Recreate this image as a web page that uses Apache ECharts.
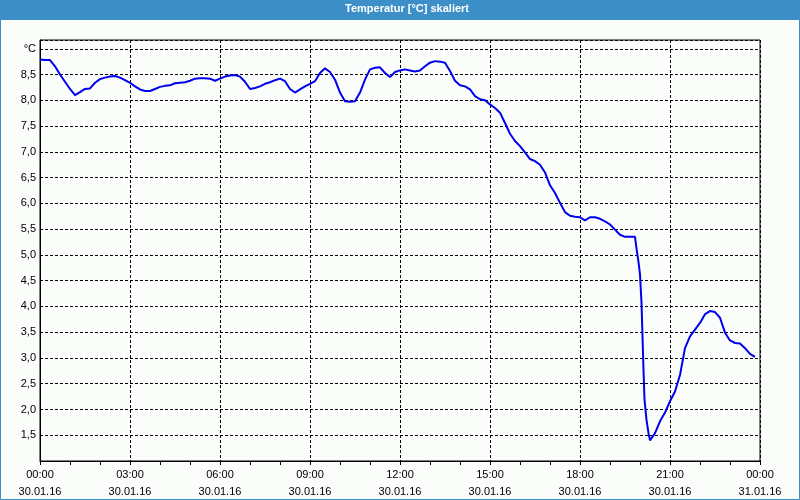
<!DOCTYPE html>
<html>
<head>
<meta charset="utf-8">
<script src="https://cdn.jsdelivr.net/npm/echarts@6/dist/echarts.min.js"></script>
<style>
html,body{margin:0;padding:0;background:#fafdfa;}
#chart{width:800px;height:500px;}
</style>
</head>
<body>
<div id="chart"></div>
<script>
// ---- data ----
const chartTitle = 'Temperatur [°C] skaliert';
const yUnit = '°C';
// time in minutes since 30.01.16 00:00
const times = [
  0,10,20,30,40,50,60,70,80,90,100,110,120,130,140,150,160,170,180,190,
  200,210,220,230,240,250,260,270,280,290,300,310,320,330,340,350,360,370,380,390,
  400,410,420,430,440,450,460,470,480,490,500,510,520,530,540,550,560,570,580,590,
  600,610,620,630,640,650,660,670,680,690,700,710,720,730,740,750,760,770,780,790,
  800,810,820,830,840,850,860,870,880,890,900,910,920,930,940,950,960,970,980,990,
  1000,1010,1020,1030,1040,1050,1060,1070,1080,1090,1100,1110,1120,1130,1140,1150,1160,1170,1180,1190,
  1193,1197,1200,1203,1205,1207,1209,1213,1217,1220,1230,1240,1250,1260,1270,1280,1290,1300,1310,1320,
  1330,1340,1350,1360,1370,1380,1390,1400,1410,1420,1430
];
const temps = [
  8.79,8.78,8.78,8.66,8.50,8.36,8.22,8.10,8.16,8.22,8.23,8.34,8.41,8.44,8.46,8.47,8.44,8.39,8.34,8.27,
  8.21,8.18,8.18,8.22,8.26,8.28,8.29,8.33,8.34,8.35,8.38,8.42,8.43,8.43,8.42,8.38,8.42,8.46,8.48,8.49,
  8.46,8.36,8.22,8.24,8.27,8.32,8.35,8.39,8.42,8.37,8.22,8.15,8.21,8.27,8.32,8.37,8.53,8.62,8.55,8.40,
  8.15,7.98,7.97,7.98,8.15,8.40,8.60,8.63,8.64,8.53,8.45,8.55,8.58,8.60,8.58,8.56,8.58,8.66,8.73,8.76,
  8.75,8.73,8.57,8.38,8.29,8.27,8.21,8.08,8.02,8.00,7.92,7.85,7.76,7.56,7.35,7.21,7.11,6.99,6.86,6.82,
  6.75,6.60,6.35,6.20,6.01,5.83,5.76,5.74,5.73,5.67,5.73,5.73,5.70,5.65,5.59,5.49,5.39,5.35,5.35,5.35,
  5.12,4.86,4.62,4.07,3.42,2.77,2.19,1.80,1.54,1.40,1.54,1.77,1.94,2.16,2.35,2.67,3.19,3.42,3.55,3.68,
  3.85,3.91,3.89,3.78,3.49,3.34,3.29,3.28,3.19,3.08,3.02
];
const xTickTimes = ['00:00','03:00','06:00','09:00','12:00','15:00','18:00','21:00','00:00'];
const xTickDates = ['30.01.16','30.01.16','30.01.16','30.01.16','30.01.16','30.01.16','30.01.16','30.01.16','31.01.16'];

const chart = echarts.init(document.getElementById('chart'), null, {renderer:'canvas'});
const FONT = '"Liberation Sans", Arial, sans-serif';
const seriesData = times.map((t, i) => [t, temps[i]]);

chart.setOption({
  animation: false,
  backgroundColor: '#fafdfa',
  title: {
    text: chartTitle,
    left: 345,
    top: 3,
    padding: 0,
    textStyle: {color: '#ffffff', fontSize: 11, fontWeight: 'bold', fontFamily: FONT}
  },
  graphic: [
    {type: 'rect', z: -1, shape: {x: 0, y: 0, width: 800, height: 20}, style: {fill: '#3d90c7'}},
    {type: 'rect', z: -1, shape: {x: 0.5, y: 0.5, width: 799, height: 499}, style: {fill: null, stroke: '#3d90c7', lineWidth: 1}}
  ],
  grid: {
    left: 40, top: 40, width: 720, height: 421,
    show: true, borderColor: '#000', borderWidth: 1, backgroundColor: 'transparent'
  },
  xAxis: {
    type: 'value', min: 0, max: 1440, interval: 180,
    axisLine: {show: true, lineStyle: {color: '#000', width: 1}},
    axisTick: {show: true, length: 4, lineStyle: {color: '#000'}},
    minorTick: {show: true, splitNumber: 3, length: 4, lineStyle: {color: '#000'}},
    splitLine: {show: true, lineStyle: {color: '#000', type: [3, 2], width: 1}},
    axisLabel: {
      margin: 5, color: '#000', fontSize: 11, fontFamily: FONT, lineHeight: 17,
      formatter: function (v) {
        const i = Math.round(v / 180);
        return xTickTimes[i] + '\n' + xTickDates[i];
      }
    }
  },
  yAxis: {
    type: 'value', min: 1.0, max: 9.17, interval: 0.5,
    axisLine: {show: true, lineStyle: {color: '#000', width: 1}},
    axisTick: {show: false},
    splitLine: {show: true, lineStyle: {color: '#000', type: [3, 2], width: 1}},
    axisLabel: {
      margin: 4, color: '#000', fontSize: 11, fontFamily: FONT,
      showMaxLabel: true, showMinLabel: false,
      formatter: function (v) {
        const r = Math.round(v * 2) / 2;
        if (Math.abs(r - v) > 1e-6) return '';
        if (Math.abs(v - 9) < 1e-6) return yUnit;
        if (v < 1.4) return '';
        return v.toFixed(1).replace('.', ',');
      }
    }
  },
  series: [{
    type: 'line',
    data: seriesData,
    showSymbol: false,
    symbol: 'none',
    lineStyle: {color: '#0000ee', width: 2},
    z: 5
  }]
});
</script>
</body>
</html>
